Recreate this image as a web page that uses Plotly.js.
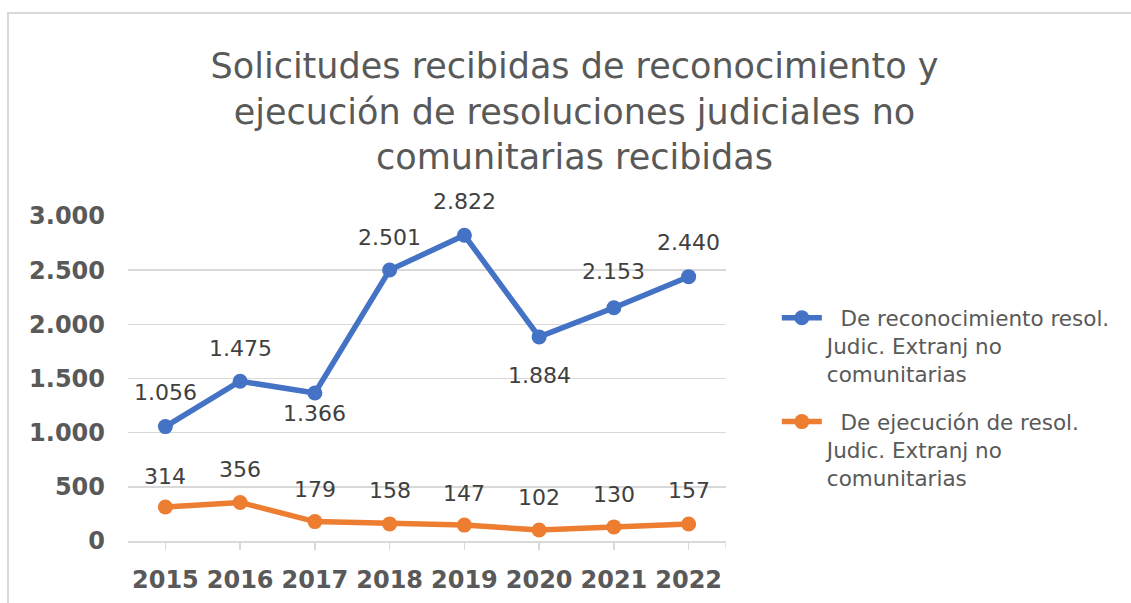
<!DOCTYPE html>
<html>
<head>
<meta charset="utf-8">
<script src="https://cdn.plot.ly/plotly-3.0.1.min.js"></script>
<style>
  html, body { margin: 0; padding: 0; background: #ffffff; }
  #wrap { position: relative; width: 1131px; height: 603px; overflow: hidden; }
  #chart { width: 1131px; height: 603px; }
  #frame { position: absolute; left: 7px; top: 12px; width: 1200px; height: 700px;
           border-left: 2px solid #d9d9d9; border-top: 2px solid #d9d9d9; pointer-events: none; }
  #err { position: absolute; left: 20px; top: 560px; color: red; font: 12px sans-serif; }
</style>
</head>
<body>
<div id="wrap">
  <div id="chart"></div>
  <div id="frame"></div>
  <div id="err"></div>
</div>
<script>
window.onerror = function (m) { document.getElementById("err").textContent = String(m); };

// ---- data ----
const years = ["2015", "2016", "2017", "2018", "2019", "2020", "2021", "2022"];
const reconocimiento = [1056, 1475, 1366, 2501, 2822, 1884, 2153, 2440];
const ejecucion = [314, 356, 179, 158, 147, 102, 130, 157];
const seriesNames = [
  "\u00A0\u00A0De reconocimiento resol.<br>Judic. Extranj no<br>comunitarias",
  "\u00A0\u00A0De ejecución de resol.<br>Judic. Extranj no<br>comunitarias"
];
const yTickVals = [0, 500, 1000, 1500, 2000, 2500, 3000];
const yTickText = ["0", "500", "1.000", "1.500", "2.000", "2.500", "3.000"];

// ---- styles ----
const blue = "#4472C4";
const orange = "#ED7D31";
const fontFam = "DejaVu Sans, Verdana, sans-serif";
const blueShift = [34, 33, -20, 33, 34, -39, 36, 34];
const orangeShift = [30, 33, 32, 33, 32, 32, 32, 33];

function fmt(v) {
  const s = String(v);
  return s.length > 3 ? s.slice(0, s.length - 3) + "." + s.slice(s.length - 3) : s;
}

const traces = [
  {
    x: years, y: reconocimiento, name: seriesNames[0], type: "scatter", mode: "lines+markers",
    line: { color: blue, width: 5.5 }, marker: { color: blue, size: 15 },
    legendgroup: "a"
  },
  {
    x: years, y: ejecucion, name: seriesNames[1], type: "scatter", mode: "lines+markers",
    line: { color: orange, width: 5.5 }, marker: { color: orange, size: 15 },
    legendgroup: "b"
  }
];

const annos = [];
for (let i = 0; i < years.length; i++) {
  annos.push({ x: i, y: reconocimiento[i], xref: "x", yref: "y", text: fmt(reconocimiento[i]),
    showarrow: false, yshift: blueShift[i], font: { family: fontFam, size: 22, color: "#404040" } });
  annos.push({ x: i, y: ejecucion[i], xref: "x", yref: "y", text: fmt(ejecucion[i]),
    showarrow: false, yshift: orangeShift[i], font: { family: fontFam, size: 22, color: "#404040" } });
}

const layout = {
  width: 1131, height: 603,
  margin: { l: 128, r: 405, t: 216, b: 62 },
  paper_bgcolor: "#ffffff", plot_bgcolor: "#ffffff",
  showlegend: true,
  title: {
    text: "Solicitudes recibidas de reconocimiento y<br>ejecución de resoluciones judiciales no<br>comunitarias recibidas",
    font: { family: fontFam, size: 35, color: "#595959" },
    xref: "container", x: 0.508, xanchor: "center",
    yref: "container", y: 0.87, yanchor: "top"
  },
  xaxis: {
    type: "category", range: [-0.5, 7.5],
    showgrid: false, zeroline: false,
    showline: true, linecolor: "#d9d9d9", linewidth: 1.5,
    ticks: "outside", ticklen: 7, tickcolor: "#d9d9d9", tickwidth: 1.5,
    ticklabelstandoff: 10,
    tickfont: { family: fontFam, size: 24, color: "#595959", weight: "bold" },
    fixedrange: true
  },
  yaxis: {
    range: [0, 3000], tickvals: yTickVals, ticktext: yTickText,
    showgrid: true, gridcolor: "#d9d9d9", gridwidth: 1.5,
    zeroline: false, showline: false, ticks: "",
    ticklabelstandoff: 22,
    tickfont: { family: fontFam, size: 24, color: "#595959", weight: "bold" },
    fixedrange: true
  },
  legend: {
    x: 1.085, xanchor: "left", y: 0.75, yanchor: "top",
    font: { family: fontFam, size: 21.5, color: "#595959" },
    traceorder: "grouped", tracegroupgap: 17, valign: "top",
    itemwidth: 40, bgcolor: "rgba(0,0,0,0)"
  },
  shapes: [
    { type: "line", xref: "x", yref: "paper", x0: 7.5, x1: 7.5, y0: 0, y1: -0.021,
      line: { color: "#d9d9d9", width: 1.5 } }
  ],
  annotations: annos
};

Plotly.newPlot("chart", traces, layout, { staticPlot: true, displayModeBar: false })
  .catch(function (e) { document.getElementById("err").textContent = String(e); });
</script>
</body>
</html>
